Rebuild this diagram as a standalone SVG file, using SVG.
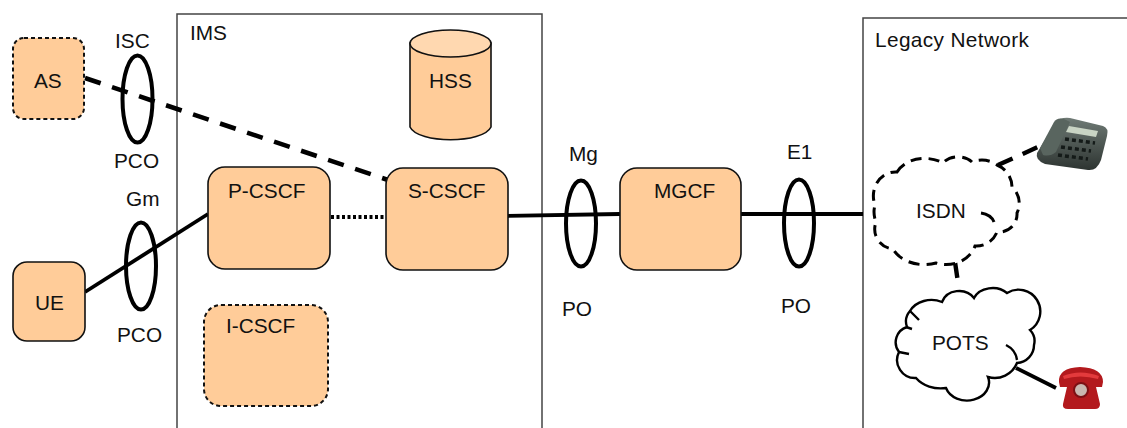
<svg xmlns="http://www.w3.org/2000/svg" width="1127" height="428" viewBox="0 0 1127 428">
<defs>
<style>
text{font-family:"Liberation Sans",Arial,sans-serif;font-size:20.8px;fill:#111}
.n{fill:#ffcc99;stroke:#111;stroke-width:1.6}
.d{stroke-dasharray:4 3;stroke-width:2}
.b{fill:none;stroke:#444;stroke-width:1.5}
.o{fill:none;stroke:#000;stroke-width:4}
.c{fill:none;stroke:#000;stroke-width:3.8}
.cl{fill:#fff;stroke:#000;stroke-width:2.4}
</style>
<linearGradient id="dp" x1="0" y1="0" x2="0" y2="1"><stop offset="0" stop-color="#6f7a75"/><stop offset="1" stop-color="#2d3431"/></linearGradient>
</defs>
<rect width="1127" height="428" fill="#fff"/>
<g id="ims"><path class="b" d="M177 428V14H542V428"/><text x="190" y="40">IMS</text></g>
<g id="legacy"><path class="b" d="M863 428V18H1127"/><text x="875" y="47" textLength="154">Legacy Network</text></g>
<g id="connectors">
<path class="c" style="stroke-width:4.600" stroke-dasharray="16.500 12" d="M85 78L388 180"/>
<path class="c" d="M85 292L208 214"/>
<path class="c" stroke-dasharray="3 2.500" d="M331 217H386"/>
<path class="c" d="M506 216L620 214"/>
<path class="c" d="M741 214H863"/>
<path class="c" style="stroke-width:4.400" stroke-dasharray="16 11" d="M998 165L1038 147"/>
<path class="c" style="stroke-width:4.400" stroke-dasharray="16 14" d="M955 262L960 296"/>
<path class="c" d="M1016 368L1056 388"/>
</g>
<g id="as"><rect class="n d" x="13" y="38" width="71" height="81" rx="11"/><text x="34" y="88">AS</text></g>
<g id="ue"><rect class="n" x="13" y="262" width="72" height="79" rx="14"/><text x="35" y="310">UE</text></g>
<g id="hss">
<path class="n" d="M410 43V127C418 144 483 144 491 127V43Z"/>
<ellipse cx="450.500" cy="43.500" rx="40.500" ry="13.500" fill="#ffd8b0" stroke="#111" stroke-width="1.600"/>
<text x="429" y="88">HSS</text>
</g>
<g id="p-cscf"><rect class="n" x="208" y="167" width="122" height="102" rx="17"/><text x="228" y="198">P-CSCF</text></g>
<g id="s-cscf"><rect class="n" x="386" y="168" width="122" height="102" rx="17"/><text x="408" y="198">S-CSCF</text></g>
<g id="i-cscf"><rect class="n d" x="204" y="305" width="124" height="101" rx="17"/><text x="226" y="333">I-CSCF</text></g>
<g id="mgcf"><rect class="n" x="620" y="168" width="121" height="102" rx="17"/><text x="654" y="198">MGCF</text></g>
<g id="isc"><ellipse class="o" cx="137.500" cy="99" rx="15" ry="43.500"/><text x="115" y="48">ISC</text><text x="114" y="168">PCO</text></g>
<g id="gm"><ellipse class="o" cx="141" cy="266" rx="15" ry="43.500"/><text x="126" y="206">Gm</text><text x="117" y="342">PCO</text></g>
<g id="mg"><ellipse class="o" cx="581" cy="223.500" rx="15" ry="43"/><text x="569" y="161">Mg</text><text x="562" y="316">PO</text></g>
<g id="e1"><ellipse class="o" cx="799" cy="223" rx="15" ry="43.500"/><text x="787" y="159">E1</text><text x="781" y="313">PO</text></g>
<g id="isdn">
<path fill="#fff" stroke="#000" stroke-width="3" stroke-dasharray="11 7" d="M897 172A30 22 0 0 1 943 163A18 14 0 0 1 972 162A22 18 0 0 1 997 165A24 24 0 0 1 1012 187A22 22 0 0 1 1017 213A18 18 0 0 1 997 232A22 22 0 0 1 975 246A30 26 0 0 1 936 263A34 26 0 0 1 893 249A20 20 0 0 1 876 222A26 26 0 0 1 875 205A22 24 0 0 1 897 172Z"/>
<path fill="none" stroke="#000" stroke-width="3" d="M981 213C988 214 992 217 994 222"/>
<text x="916" y="218">ISDN</text>
</g>
<g id="pots">
<path class="cl" d="M907 327A16 16 0 0 1 910 311A24 20 0 0 1 942 302A18 16 0 0 1 974 298A20 16 0 0 1 1007 293A20 20 0 0 1 1030 330A16 16 0 0 1 1034 345A18 18 0 0 1 1017 363A24 24 0 0 1 988 377A22 18 0 0 1 946 388A30 24 0 0 1 916 378A18 18 0 0 1 899 352A16 16 0 0 1 907 327Z"/>
<path fill="none" stroke="#000" stroke-width="2.400" d="M1006 345C1012 348 1016 352 1017 360M906 327L912 329M910 311L919 320M899 352L909 354"/>
<text x="932" y="350">POTS</text>
</g>
<g id="desk-phone">
<path fill="url(#dp)" d="M1037 153L1056 122Q1060 117 1070 118L1103 126Q1109 128 1107 136L1101 160Q1097 171 1088 170L1045 164Q1035 160 1037 153Z"/>
<path fill="#59655f" d="M1040 148L1054 122Q1057 117 1064 119L1070 122L1056 152Q1050 157 1043 155Z"/>
<path fill="#c9d4c4" d="M1069 126L1098 131L1096 137L1066 132Z"/>
<path fill="none" stroke="#141a18" stroke-width="3.500" stroke-dasharray="4 3" d="M1065 139L1095 143M1061 147L1091 151M1058 155L1088 159"/>
</g>
<g id="red-phone">
<path fill="#b3191d" d="M1059 382Q1058 368 1080 367Q1103 368 1103 382L1102 387L1096 387L1100 404Q1100 409 1095 409H1068Q1062 409 1063 404L1067 387L1060 387Z"/>
<path fill="#e33a3c" d="M1063 376Q1080 369 1099 376L1098 379Q1080 374 1064 379Z"/>
<circle cx="1081" cy="390" r="7" fill="#c9b7b0" stroke="#7c1014" stroke-width="2"/>
</g>
</svg>
